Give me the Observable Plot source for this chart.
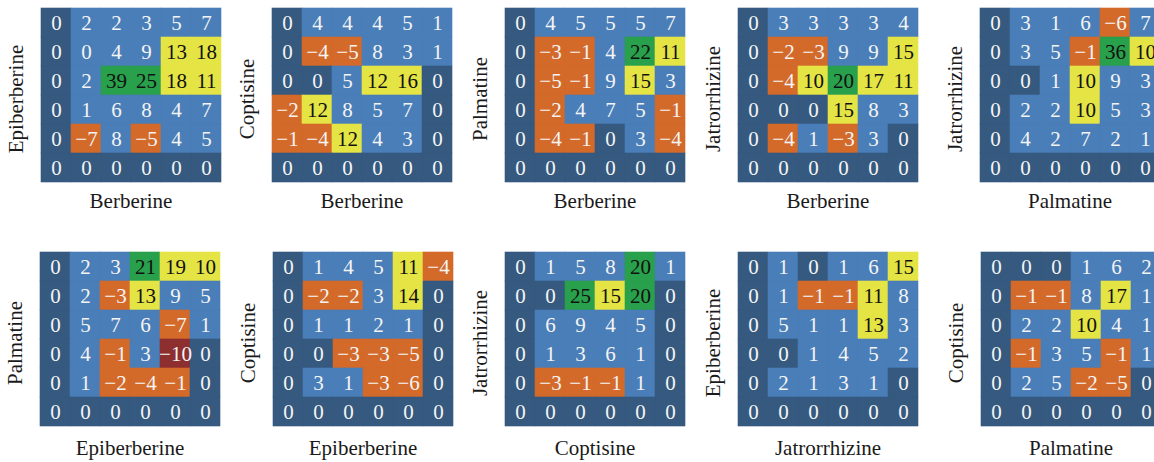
<!DOCTYPE html>
<html><head><meta charset="utf-8">
<script src="https://cdn.jsdelivr.net/npm/d3@7"></script>
<script src="https://cdn.jsdelivr.net/npm/@observablehq/plot@0.6"></script>
<style>
html,body{margin:0;padding:0;background:#fff;overflow:hidden;width:1154px;height:462px}
#chart{position:relative;width:1154px;height:462px;overflow:hidden}
#chart svg{position:absolute;overflow:visible}
</style></head><body><div id="chart"></div>
<script>
// Axis labels of each panel (row-major: top row, then bottom row)
const xLabels = ["Berberine","Berberine","Berberine","Berberine","Palmatine",
                 "Epiberberine","Epiberberine","Coptisine","Jatrorrhizine","Palmatine"];
const yLabels = ["Epiberberine","Coptisine","Palmatine","Jatrorrhizine","Jatrorrhizine",
                 "Palmatine","Coptisine","Jatrorrhizine","Epiberberine","Coptisine"];

// 6x6 grids, rows listed top to bottom
const epiberberine_berberine = [
  [0, 2, 2, 3, 5, 7],
  [0, 0.4, 4, 9, 13, 18],
  [0, 2, 39, 25, 18, 11],
  [0, 1, 6, 8, 4, 7],
  [0, -7, 8, -5, 4, 5],
  [0, 0, 0, 0, 0, 0]];
const coptisine_berberine = [
  [0, 4, 4, 4, 5, 1],
  [0, -4, -5, 8, 3, 1],
  [0, 0, 5, 12, 16, 0],
  [-2, 12, 8, 5, 7, 0],
  [-1, -4, 12, 4, 3, 0],
  [0, 0, 0, 0, 0, 0]];
const palmatine_berberine = [
  [0, 4, 5, 5, 5, 7],
  [0, -3, -1, 4, 22, 11],
  [0, -5, -1, 9, 15, 3],
  [0, -2, 4, 7, 5, -1],
  [0, -4, -1, 0, 3, -4],
  [0, 0, 0, 0, 0, 0]];
const jatrorrhizine_berberine = [
  [0, 3, 3, 3, 3, 4],
  [0, -2, -3, 9, 9, 15],
  [0, -4, 10, 20, 17, 11],
  [0, 0, 0, 15, 8, 3],
  [0, -4, 1, -3, 3, 0],
  [0, 0, 0, 0, 0, 0]];
const jatrorrhizine_palmatine = [
  [0, 3, 1, 6, -6, 7],
  [0, 3, 5, -1, 36, 10],
  [0, 0, 1, 10, 9, 3],
  [0, 2, 2, 10, 5, 3],
  [0, 4, 2, 7, 2, 1],
  [0, 0, 0, 0, 0, 0]];
const palmatine_epiberberine = [
  [0, 2, 3, 21, 19, 10],
  [0, 2, -3, 13, 9, 5],
  [0, 5, 7, 6, -7, 1],
  [0, 4, -1, 3, -10, 0],
  [0, 1, -2, -4, -1, 0],
  [0, 0, 0, 0, 0, 0]];
const coptisine_epiberberine = [
  [0, 1, 4, 5, 11, -4],
  [0, -2, -2, 3, 14, 0],
  [0, 1, 1, 2, 1, 0],
  [0, 0, -3, -3, -5, 0],
  [0, 3, 1, -3, -6, 0],
  [0, 0, 0, 0, 0, 0]];
const jatrorrhizine_coptisine = [
  [0, 1, 5, 8, 20, 1],
  [0, 0, 25, 15, 20, 0],
  [0, 6, 9, 4, 5, 0],
  [0, 1, 3, 6, 1, 0],
  [0, -3, -1, -1, 1, 0],
  [0, 0, 0, 0, 0, 0]];
const epiberberine_jatrorrhizine = [
  [0, 1, 0, 1, 6, 15],
  [0, 1, -1, -1, 11, 8],
  [0, 5, 1, 1, 13, 3],
  [0, 0, 1, 4, 5, 2],
  [0, 2, 1, 3, 1, 0],
  [0, 0, 0, 0, 0, 0]];
const coptisine_palmatine = [
  [0, 0, 0, 1, 6, 2],
  [0, -1, -1, 8, 17, 1],
  [0, 2, 2, 10, 4, 1],
  [0, -1, 3, 5, -1, 1],
  [0, 2, 5, -2, -5, 0],
  [0, 0, 0, 0, 0, 0]];

const panels = [epiberberine_berberine, coptisine_berberine, palmatine_berberine,
  jatrorrhizine_berberine, jatrorrhizine_palmatine, palmatine_epiberberine,
  coptisine_epiberberine, jatrorrhizine_coptisine, epiberberine_jatrorrhizine, coptisine_palmatine];

// layout
const gridLefts = [[39, 270, 503, 736, 978], [38, 271, 503, 736, 979]];
const gridTops = [7, 251];
const labelDy = [25, 28];
const gridW = 183, gridH = 175;
const mL = 45, mT = 10, mR = 10, mB = 45;
const font = "'Liberation Serif', 'DejaVu Serif', serif";
const fmt = d3.format("d");
const idx = d3.range(6);

const chart = document.getElementById("chart");
panels.forEach((grid, p) => {
  const row = Math.floor(p / 5), col = p % 5;
  const data = grid.flatMap((r, i) => r.map((v, j) => ({r: i, c: j, v})));
  const svg = Plot.plot({
    width: mL + gridW + mR,
    height: mT + gridH + mB,
    marginLeft: mL, marginTop: mT, marginRight: mR, marginBottom: mB,
    style: {fontFamily: font, background: "transparent", overflow: "visible"},
    x: {type: "band", domain: idx, padding: 0, axis: null},
    y: {type: "band", domain: idx, padding: 0, axis: null},
    color: {type: "threshold", domain: [-9.5, -0.5, 0.25, 9.5, 19.5],
            range: ["#8d2e2f", "#d36a2a", "#35597f", "#4a7eb8", "#e5e445", "#29a04c"]},
    marks: [
      Plot.cell(data, {x: "c", y: "r", fill: "v", stroke: "v", strokeWidth: 0.6}),
      Plot.text(data.filter(d => d.v < 9.5), {x: "c", y: "r", text: d => fmt(d.v), fill: "#f4f4f4", fontSize: 21}),
      Plot.text(data.filter(d => d.v >= 9.5), {x: "c", y: "r", text: d => fmt(d.v), fill: "#111", fontSize: 21}),
      Plot.text([xLabels[p]], {frameAnchor: "bottom", dy: labelDy[row], textAnchor: "middle", text: d => d, fill: "#1a1a1a", fontSize: 21}),
      Plot.text([yLabels[p]], {frameAnchor: "left", dx: -23, dy: 4, textAnchor: "middle", lineAnchor: "middle", rotate: -90, text: d => d, fill: "#1a1a1a", fontSize: 21})
    ]
  });
  svg.style.left = (gridLefts[row][col] - mL) + "px";
  svg.style.top = (gridTops[row] - mT) + "px";
  chart.appendChild(svg);
});
</script>
</body></html>
